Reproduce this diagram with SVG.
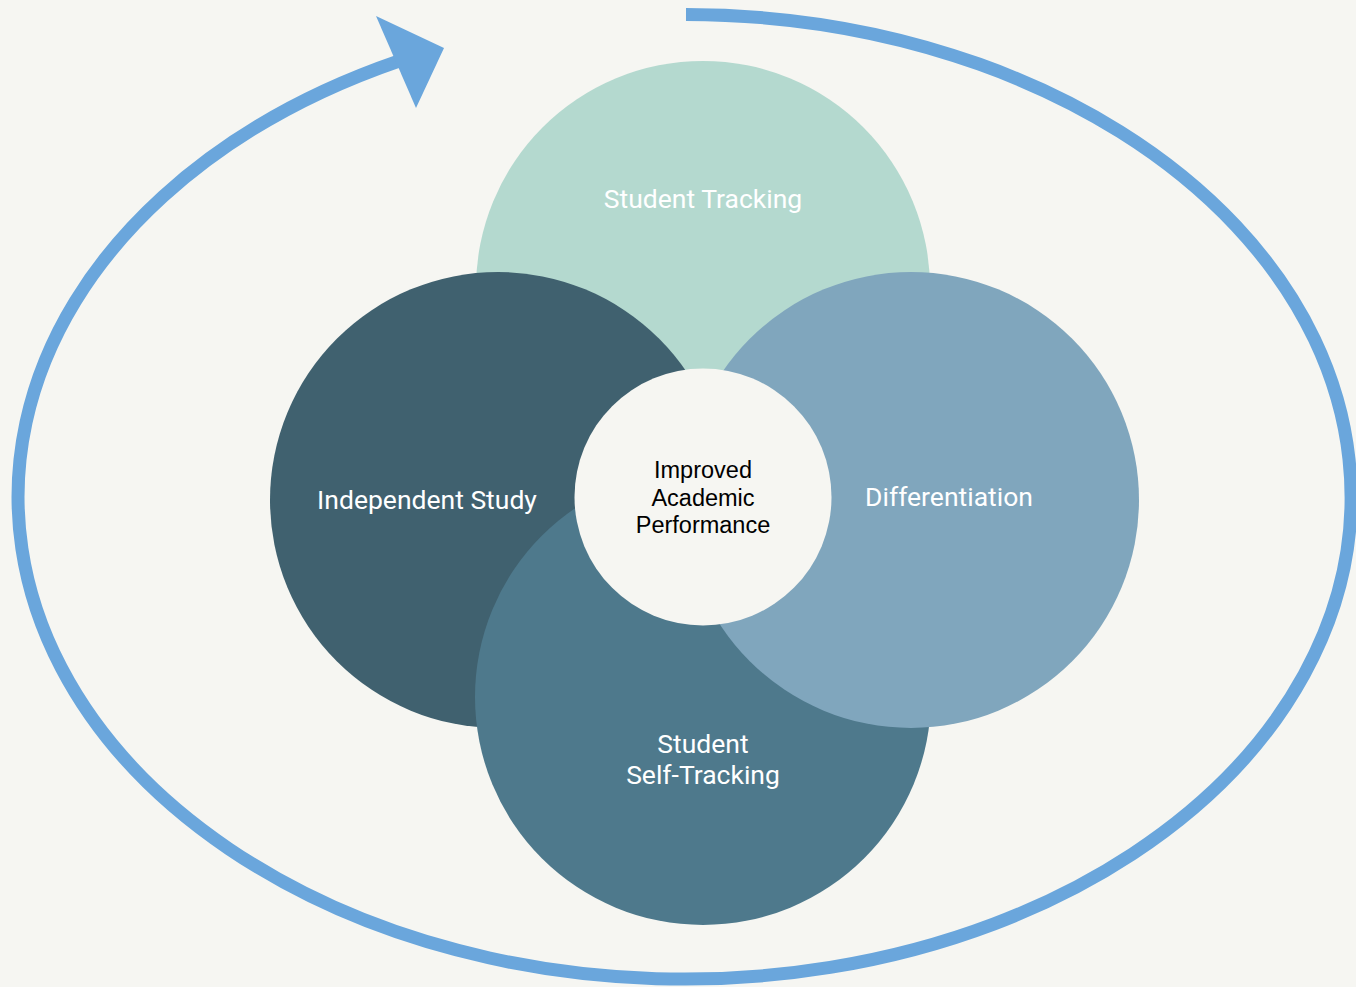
<svg xmlns="http://www.w3.org/2000/svg" width="1356" height="987" viewBox="0 0 1356 987">
<style>
.lbl{font-family:Roboto,"Liberation Sans",sans-serif;font-size:26.5px;fill:#ffffff;text-anchor:middle}
.ctr{font-family:"Liberation Sans",Arial,sans-serif;font-size:23.5px;fill:#000000;text-anchor:middle}
.ring{fill:none;stroke:#6aa6dc;stroke-width:13}
</style>
<rect x="0" y="0" width="1356" height="987" fill="#f6f6f2"/>
<g id="connectors">
<path class="ring" d="M 686 14.5 A 666.5 482.3 0 1 1 399 61"/>
<polygon points="376,16 444,48 416,108" fill="#6aa6dc"/>
</g>
<g id="student-tracking">
<circle cx="703" cy="288" r="227" fill="#b4d9cf"/>
<text class="lbl" x="703" y="208">Student Tracking</text>
</g>
<g id="independent-study">
<circle cx="498" cy="500" r="228" fill="#40616f"/>
<text class="lbl" x="427" y="509">Independent Study</text>
</g>
<g id="student-self-tracking">
<circle cx="703" cy="697" r="228" fill="#4e798c"/>
<text class="lbl" x="703" y="753">Student</text>
<text class="lbl" x="703" y="784">Self-Tracking</text>
</g>
<g id="differentiation">
<circle cx="911" cy="500" r="228" fill="#80a6bd"/>
<text class="lbl" x="949" y="506">Differentiation</text>
</g>
<g id="improved-academic-performance">
<circle cx="703" cy="497" r="128.5" fill="#f6f6f2"/>
<text class="ctr" x="703" y="478">Improved</text>
<text class="ctr" x="703" y="506">Academic</text>
<text class="ctr" x="703" y="533">Performance</text>
</g>
</svg>
